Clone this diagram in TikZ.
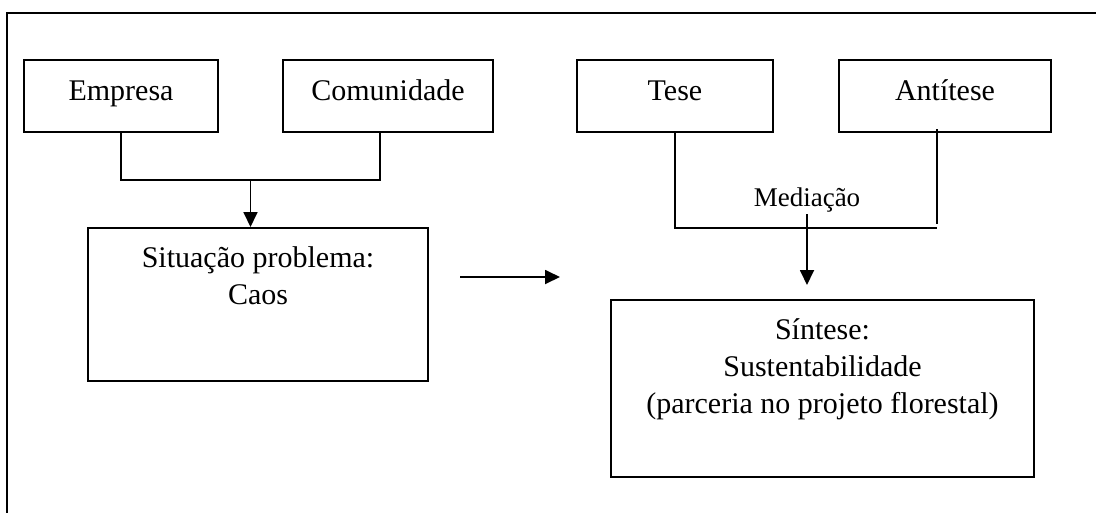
\documentclass[tikz,border=0pt]{standalone}
\usepackage{fontspec}
\setmainfont{Liberation Serif}
\usetikzlibrary{arrows.meta,positioning}
\begin{document}
\begin{tikzpicture}[x=1pt,y=-1pt]
    \tikzstyle{every node}=[font=\fontsize{30}{37}\selectfont, inner sep=0pt]
    \tikzstyle{caixa}=[draw, line width=2pt, minimum height=72pt, text height=22pt, text depth=14pt]
    \tikzstyle{bloco}=[draw, line width=2pt]
    \tikzstyle{texto}=[align=center, anchor=north]
    \tikzstyle{liga}=[line width=1.8pt]
    \tikzstyle{seta}=[liga, -{Triangle[length=15pt,width=14pt]}]
    \useasboundingbox (0,0) rectangle (1096,512);
    \draw[liga] (1110,13) -- (7,13) -- (7,530);
    \node[caixa, minimum width=194pt] (empresa) at (121,96) {Empresa};
    \node[caixa, minimum width=210pt] (comunidade) at (388,96) {Comunidade};
    \node[caixa, minimum width=196pt] (tese) at (675,96) {Tese};
    \node[caixa, minimum width=212pt] (antitese) at (945,96) {Antítese};
    \node[bloco, minimum width=340pt, minimum height=153pt] (situacao) at (258,304.5) {};
    \node[texto] (situacaotxt) at ([yshift=-19pt]situacao.north) {Situação problema:\\Caos};
    \node[bloco, minimum width=423pt, minimum height=177pt] (sintese) at (822.5,388.5) {};
    \node[texto] (sintesetxt) at ([yshift=-19pt]sintese.north) {Síntese:\\Sustentabilidade\\(parceria no projeto florestal)};
    \node[font=\fontsize{27}{32}\selectfont] (mediacao) at (807,200) {Mediação};
    \coordinate (juncao) at (250.5,180);
    \draw[liga] (empresa.south) |- (juncao) -| ([xshift=-8pt]comunidade.south);
    \draw[seta] (juncao) -- (juncao |- situacao.north);
    \coordinate (mediacaojuncao) at (806.5,228);
    \draw[liga] (tese.south) |- (mediacaojuncao) -- ++(130.5,0);
    \draw[liga] ([xshift=-8pt,yshift=4pt]antitese.south) -- ++(0,95);
    \draw[seta, shorten <=2pt, shorten >=14pt] (mediacao.south) -- (mediacao.south |- sintese.north);
    \coordinate (caossaida) at (460,277);
    \coordinate (sinteseentrada) at (560,277);
    \draw[seta] (caossaida) -- (sinteseentrada);
\end{tikzpicture}
\end{document}
